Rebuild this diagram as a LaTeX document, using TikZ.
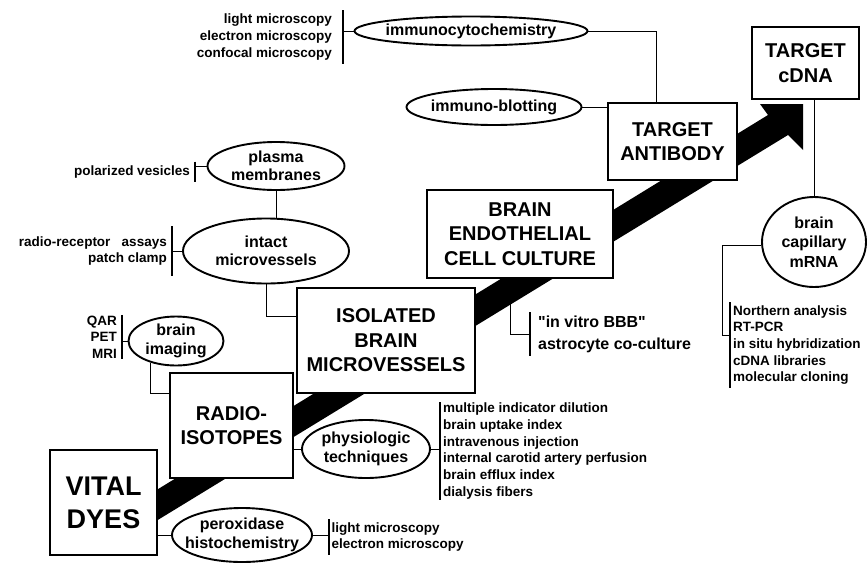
\documentclass[tikz,border=0pt]{standalone}
\usepackage{fontspec}
\setmainfont{Liberation Sans}
\newfontfamily\plainsans{Liberation Sans}
\usepackage{tikz}
\usetikzlibrary{shapes,arrows.meta,positioning,calc}

\begin{document}
\begin{tikzpicture}[
    x=1pt, y=-1pt,
    stage/.style={draw, line width=2.2pt, fill=white, inner sep=0pt, align=center, font=\fontsize{20}{24.5}\selectfont\bfseries},
    method/.style={ellipse, draw, line width=1.9pt, fill=white, inner sep=0pt},
    mtext/.style={align=center, font=\fontsize{16}{18.5}\selectfont\bfseries},
    list/.style={inner ysep=1pt, font=\fontsize{13.5}{16.7}\selectfont\bfseries},
    link/.style={line width=0.9pt},
    tick/.style={line width=1.3pt},
]
\useasboundingbox (0,0) rectangle (867,563);

% the broad arrow behind the stages
\coordinate (tailup) at (93,529);
\coordinate (taillo) at (107,551);
\fill (tailup) -- (768,115) -- (760,104) -- (803,104) -- (803,150) -- (788,135) -- (taillo) -- cycle;

\node[stage, minimum width=107, minimum height=105, font=\fontsize{27}{33}\selectfont\bfseries] (vital) at (103.5,502.5) {VITAL\\DYES};
\node[stage, minimum width=123, minimum height=105] (radio) at (231.5,425.5) {RADIO-\\ISOTOPES};
\node[stage, minimum width=178, minimum height=105] (iso) at (386,340.5) {ISOLATED\\BRAIN\\MICROVESSELS};
\node[stage, minimum width=186, minimum height=88] (endo) at (520,234) {BRAIN\\ENDOTHELIAL\\CELL CULTURE};
\node[stage, minimum width=129, minimum height=77] (antibody) at (672.5,141.5) {TARGET\\ANTIBODY};
\node[stage, minimum width=107, minimum height=72] (cdna) at (805.5,63) {TARGET\\cDNA};

\node[method, minimum width=140, minimum height=54, label={[mtext]center:peroxidase\\histochemistry}] (perox) at (242,535) {};
\node[method, minimum width=128, minimum height=58, label={[mtext]center:physiologic\\techniques}] (physio) at (366,449) {};
\node[method, minimum width=95, minimum height=49, label={[mtext]center:brain\\imaging}] (imaging) at (176,341) {};
\node[method, minimum width=166, minimum height=65, label={[mtext]center:intact\\microvessels}] (intact) at (266,251) {};
\node[method, minimum width=137, minimum height=48, label={[mtext]center:plasma\\membranes}] (plasma) at (276,166) {};
\node[method, minimum width=233, minimum height=29, label={[mtext]center:immunocytochemistry}] (immuno) at (471,31) {};
\node[method, minimum width=175, minimum height=36, label={[mtext]center:immuno-blotting}] (blot) at (494,107) {};
\node[method, minimum width=104, minimum height=90, label={[mtext, font=\fontsize{16}{19.5}\selectfont\bfseries]center:brain\\capillary\\mRNA}] (mrna) at (814,242) {};

\node[list, anchor=east, align=right, inner xsep=5pt, inner ysep=4pt] (polar) at (195,172) {polarized vesicles};
\node[list, anchor=east, align=right, inner xsep=5pt, inner ysep=10pt] (rr) at (172,251) {radio-receptor\ \ \ assays\\patch clamp};
\node[list, anchor=east, align=right, inner xsep=5pt, inner ysep=0.5pt] (qar) at (122,337) {QAR\\PET\\MRI};
\node[list, anchor=east, align=right, inner xsep=11pt, inner ysep=3.5pt] (imm) at (343,37) {light microscopy\\electron microscopy\\confocal microscopy};
\node[list, anchor=west, align=left, inner xsep=2.5pt, inner ysep=3pt] (peroxlist) at (329,537) {light microscopy\\electron microscopy};
\node[list, anchor=west, align=left, inner xsep=3pt, inner ysep=0.5pt] (physlist) at (440,451) {multiple indicator dilution\\brain uptake index\\intravenous injection\\internal carotid artery perfusion\\brain efflux index\\dialysis fibers};
\node[list, anchor=west, align=left, inner xsep=8pt, inner ysep=3pt, font=\plainsans\fontsize{16}{22}\selectfont\bfseries] (vitro) at (530,334) {"in vitro BBB"\\astrocyte co-culture};
\node[list, anchor=west, align=left, inner xsep=3pt, inner ysep=3pt] (northern) at (730,345) {Northern analysis\\RT-PCR\\in situ hybridization\\cDNA libraries\\molecular cloning};

\draw[tick] (polar.north east) -- (polar.south east);
\draw[tick] (rr.north east) -- (rr.south east);
\draw[tick] (qar.north east) -- (qar.south east);
\draw[tick] (imm.north east) -- (imm.south east);
\draw[tick] (peroxlist.north west) -- (peroxlist.south west);
\draw[tick] (physlist.north west) -- (physlist.south west);
\draw[tick] (vitro.north west) -- (vitro.south west);
\draw[tick] (northern.north west) -- (northern.south west);

\draw[link] (vital.east |- perox.west) -- (perox.west);
\draw[link] (perox.east) -- (perox.east -| peroxlist.west);
\draw[link] (radio.east |- physio.west) -- (physio.west);
\draw[link] (physio.east) -- (physio.east -| physlist.west);
\draw[link] (imaging.-139) |- ([yshift=-22pt]radio.north west);
\draw[link] (imaging.west) -- (imaging.west -| qar.east);
\draw[link] (intact.south) |- ([yshift=-30pt]iso.north west);
\draw[link] (intact.west) -- (intact.west -| rr.east);
\draw[link] (plasma.south) -- (plasma.south |- intact.north);
\draw[link] (plasma.west) -- (plasma.west -| polar.east);
\draw[link] (immuno.west) -- (immuno.west -| imm.east);
\draw[link] (immuno.east) -| ([xshift=50pt]antibody.north west);
\draw[link] (blot.east) -- (blot.east -| antibody.west);
\draw[link] (mrna.north) -- (mrna.north |- cdna.south);
\draw[link] ([xshift=85pt]endo.south west) |- (vitro.west);
\draw[link] (mrna.184) -- ++(-39,0) |- (northern.west |- 0,335);
\end{tikzpicture}
\end{document}
